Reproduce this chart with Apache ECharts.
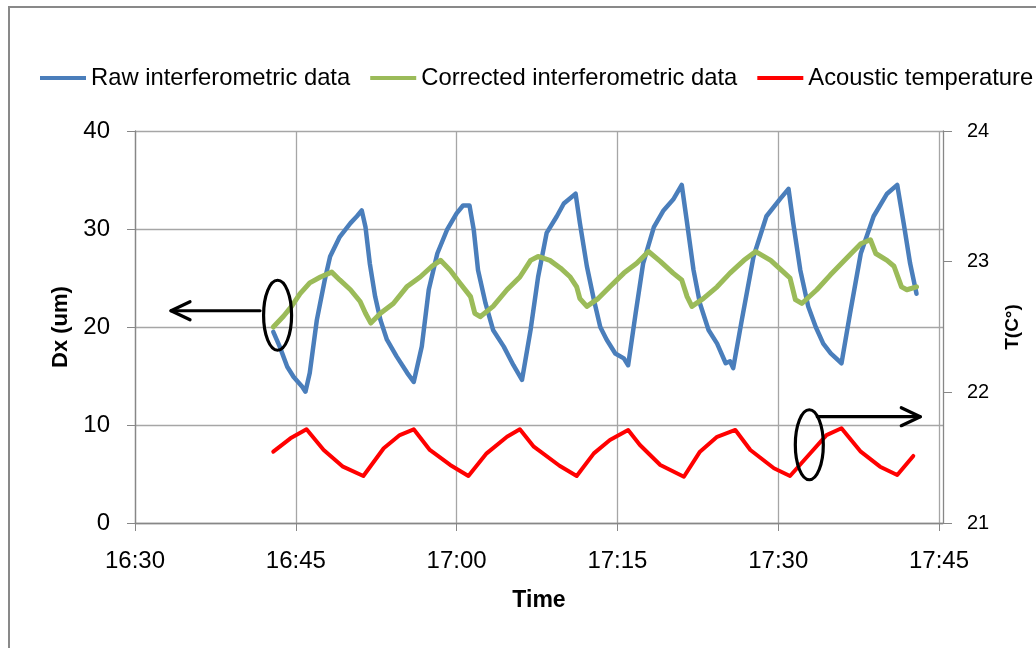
<!DOCTYPE html>
<html>
<head>
<meta charset="utf-8">
<script src="https://cdn.jsdelivr.net/npm/echarts@6/dist/echarts.min.js"></script>
<style>
html,body{margin:0;padding:0;background:#fff;}
#chart{width:1036px;height:648px;}
</style>
</head>
<body>
<div id="chart"></div>
<script>
// Time in minutes after 16:30
const xTickLabels = ['16:30', '16:45', '17:00', '17:15', '17:30', '17:45'];
const xTickValues = [0, 15, 30, 45, 60, 75];

const rawTime = [12.9, 13.5, 14.2, 14.8, 15.6, 15.9, 16.3, 16.96, 17.7, 18.2, 19.1, 20.1, 20.7, 21.15, 21.5, 21.9, 22.4, 22.9, 23.5, 24.4, 25.4, 26.0, 26.1, 26.75, 27.4, 28.2, 29.1, 30.0, 30.6, 31.2, 31.6, 32.0, 32.7, 33.4, 34.4, 35.3, 36.1, 36.9, 37.6, 38.4, 39.35, 40.0, 41.1, 41.5, 42.15, 42.8, 43.4, 44.0, 44.8, 45.6, 46.0, 46.7, 47.4, 48.4, 49.3, 50.2, 51.0, 51.5, 52.1, 52.7, 53.5, 54.3, 55.1, 55.5, 55.8, 56.6, 57.7, 58.9, 60.2, 60.96, 61.4, 62.06, 62.8, 63.5, 64.2, 64.9, 65.9, 66.7, 67.7, 68.9, 70.15, 71.1, 71.7, 72.3, 72.9];
const rawDx = [19.5, 18.0, 15.95, 14.9, 13.9, 13.4, 15.3, 20.7, 24.8, 27.2, 29.2, 30.6, 31.3, 31.9, 30.2, 26.5, 23.1, 20.7, 18.7, 17.0, 15.3, 14.4, 14.3, 18.0, 23.8, 27.5, 29.9, 31.6, 32.4, 32.4, 29.9, 25.8, 22.4, 19.7, 18.0, 16.1, 14.6, 19.7, 25.1, 29.6, 31.3, 32.6, 33.6, 30.6, 26.2, 22.8, 20.0, 18.7, 17.3, 16.8, 16.1, 21.4, 26.5, 30.2, 31.9, 33.0, 34.5, 30.6, 25.8, 22.4, 19.7, 18.3, 16.3, 16.5, 15.8, 20.7, 27.2, 31.3, 33.1, 34.1, 30.6, 25.8, 22.1, 20.0, 18.3, 17.3, 16.3, 21.4, 27.5, 31.3, 33.6, 34.5, 30.6, 26.5, 23.4];

const corrTime = [12.9, 13.85, 14.6, 15.4, 16.3, 17.3, 18.35, 19.1, 20.1, 21.0, 21.5, 22.0, 22.9, 24.1, 25.35, 26.6, 27.7, 28.5, 29.4, 30.3, 31.3, 31.7, 32.2, 33.4, 34.7, 35.9, 36.9, 37.6, 38.7, 39.7, 40.6, 41.2, 41.5, 42.15, 43.2, 44.3, 45.6, 46.8, 47.9, 49.0, 50.2, 51.0, 51.5, 51.95, 53.0, 54.3, 55.5, 56.8, 57.9, 59.3, 60.5, 61.1, 61.6, 62.2, 63.6, 64.85, 66.1, 67.7, 68.6, 69.1, 70.15, 70.8, 71.5, 72.0, 72.9];
const corrDx = [20.0, 21.1, 22.1, 23.4, 24.5, 25.1, 25.6, 24.8, 23.8, 22.6, 21.4, 20.4, 21.4, 22.4, 24.1, 25.1, 26.2, 26.8, 25.8, 24.5, 23.1, 21.4, 21.05, 22.1, 23.8, 25.1, 26.8, 27.2, 26.8, 26.0, 25.1, 24.1, 22.9, 22.1, 22.9, 24.1, 25.5, 26.5, 27.7, 26.7, 25.5, 24.8, 23.1, 22.1, 22.9, 24.1, 25.5, 26.8, 27.7, 26.8, 25.6, 25.0, 22.8, 22.4, 23.8, 25.3, 26.7, 28.5, 28.9, 27.5, 26.8, 26.2, 24.1, 23.8, 24.1];

const tempTime = [12.9, 14.5, 16.0, 17.6, 19.4, 21.3, 23.2, 24.7, 26.0, 27.5, 29.4, 31.1, 32.8, 34.7, 35.9, 37.2, 39.6, 41.2, 42.8, 44.3, 46.0, 47.1, 49.0, 51.2, 52.7, 54.3, 56.0, 57.4, 59.6, 61.1, 62.7, 64.5, 65.9, 67.7, 69.5, 71.1, 72.6];
const tempC = [21.546, 21.648, 21.717, 21.559, 21.431, 21.36, 21.572, 21.673, 21.717, 21.559, 21.444, 21.36, 21.533, 21.66, 21.717, 21.584, 21.438, 21.36, 21.533, 21.635, 21.712, 21.597, 21.444, 21.354, 21.546, 21.66, 21.712, 21.559, 21.419, 21.36, 21.507, 21.673, 21.725, 21.546, 21.431, 21.367, 21.513];

const seriesNames = ['Raw interferometric data', 'Corrected interferometric data', 'Acoustic temperature'];
const seriesColors = ['#4a7ebb', '#9bbb59', '#ff0000'];

const FONT = 'Liberation Sans';
const pair = (xs, ys) => xs.map((x, i) => [x, ys[i]]);
const fmtTime = v => {
  const i = xTickValues.indexOf(v);
  return i >= 0 ? xTickLabels[i] : '';
};

const chart = echarts.init(document.getElementById('chart'), null, {renderer: 'canvas'});
const gridLineColor = '#a6a6a6';
const axisLineColor = '#878787';

chart.setOption({
  animation: false,
  backgroundColor: '#ffffff',
  textStyle: {fontFamily: FONT},
  legend: {
    left: 40, top: 66, padding: 0,
    icon: 'rect', itemWidth: 46, itemHeight: 4, itemGap: 20,
    textStyle: {fontFamily: FONT, fontSize: 23.8, color: '#000'},
    data: seriesNames
  },
  grid: {left: 135, right: 93, top: 131, bottom: 125},
  xAxis: {
    type: 'value', min: 0, max: 75.37, interval: 15,
    name: 'Time', nameLocation: 'middle', nameGap: 66,
    nameTextStyle: {fontFamily: FONT, fontSize: 23, fontWeight: 'bold', color: '#000'},
    axisLine: {show: true, onZero: false, lineStyle: {color: axisLineColor, width: 1.3}},
    axisTick: {show: true, inside: false, length: 8, lineStyle: {color: axisLineColor}, customValues: xTickValues},
    axisLabel: {fontFamily: FONT, fontSize: 24, color: '#000', margin: 26, formatter: fmtTime, customValues: xTickValues},
    splitLine: {show: true, lineStyle: {color: gridLineColor, width: 1.3}}
  },
  yAxis: [{
    type: 'value', min: 0, max: 40, interval: 10, position: 'left',
    name: 'Dx (um)', nameLocation: 'middle', nameGap: 63,
    nameTextStyle: {fontFamily: FONT, fontSize: 22, fontWeight: 'bold', color: '#000'},
    axisLine: {show: true, lineStyle: {color: axisLineColor, width: 1.3}},
    axisTick: {show: true, length: 8, lineStyle: {color: axisLineColor}},
    axisLabel: {fontFamily: FONT, fontSize: 24, color: '#000', margin: 25},
    splitLine: {show: true, lineStyle: {color: gridLineColor, width: 1.3}}
  }, {
    type: 'value', min: 21, max: 24, interval: 1, position: 'right',
    name: 'T(C°)', nameLocation: 'middle', nameGap: 60, nameRotate: 90,
    nameTextStyle: {fontFamily: FONT, fontSize: 19, fontWeight: 'bold', color: '#000'},
    axisLine: {show: true, lineStyle: {color: axisLineColor, width: 1.3}},
    axisTick: {show: true, length: 9, lineStyle: {color: axisLineColor}},
    axisLabel: {fontFamily: FONT, fontSize: 20, color: '#000', margin: 24},
    splitLine: {show: false}
  }],
  series: [{
    name: seriesNames[0], type: 'line', yAxisIndex: 0, showSymbol: false, symbol: 'none',
    data: pair(rawTime, rawDx), lineStyle: {color: seriesColors[0], width: 4.5, join: 'round', cap: 'round'}, itemStyle: {color: seriesColors[0]}, z: 3
  }, {
    name: seriesNames[1], type: 'line', yAxisIndex: 0, showSymbol: false, symbol: 'none',
    data: pair(corrTime, corrDx), lineStyle: {color: seriesColors[1], width: 5, join: 'round', cap: 'round'}, itemStyle: {color: seriesColors[1]}, z: 4
  }, {
    name: seriesNames[2], type: 'line', yAxisIndex: 1, showSymbol: false, symbol: 'none',
    data: pair(tempTime, tempC), lineStyle: {color: seriesColors[2], width: 4, join: 'round', cap: 'round'}, itemStyle: {color: seriesColors[2]}, z: 3
  }]
});

// Annotations (ellipses + arrows) placed in data coordinates
const annLeft = {ellipse: [13.3, 21.2], arrowFrom: [11.66, 21.66], arrowTo: [3.36, 21.66]};
const annRight = {ellipse: [62.9, 21.599], arrowFrom: [63.64, 21.8135], arrowTo: [73.25, 21.8135]};

function px(p, yIdx) {
  return chart.convertToPixel({xAxisIndex: 0, yAxisIndex: yIdx}, p);
}
function arrowShapes(from, to, keyPrefix) {
  const dir = Math.sign(to[0] - from[0]);
  const back = to[0] - dir * 19;
  const st = {stroke: '#000', lineWidth: 3.2, fill: null, lineCap: 'round', lineJoin: 'round'};
  return [
    {type: 'line', id: keyPrefix + 'l', shape: {x1: from[0], y1: from[1], x2: to[0], y2: to[1]}, style: st, z: 100},
    {type: 'polyline', id: keyPrefix + 'h', shape: {points: [[back, to[1] - 9], [to[0], to[1]], [back, to[1] + 9]]}, style: st, z: 100}
  ];
}
const lE = px(annLeft.ellipse, 0), lF = px(annLeft.arrowFrom, 0), lT = px(annLeft.arrowTo, 0);
const rE = px(annRight.ellipse, 1), rF = px(annRight.arrowFrom, 1), rT = px(annRight.arrowTo, 1);
const ellipseStyle = {stroke: '#000', lineWidth: 3.2, fill: null};

chart.setOption({
  graphic: [
    {type: 'rect', id: 'border', shape: {x: 9, y: 7, width: 1200, height: 800}, style: {stroke: '#898989', lineWidth: 2, fill: null}, z: 0},
    {type: 'ellipse', id: 'le', shape: {cx: lE[0], cy: lE[1], rx: 14, ry: 35}, style: ellipseStyle, z: 100},
    {type: 'ellipse', id: 're', shape: {cx: rE[0], cy: rE[1], rx: 14, ry: 35}, style: ellipseStyle, z: 100}
  ].concat(arrowShapes(lF, lT, 'la'), arrowShapes(rF, rT, 'ra'))
});
</script>
</body>
</html>
